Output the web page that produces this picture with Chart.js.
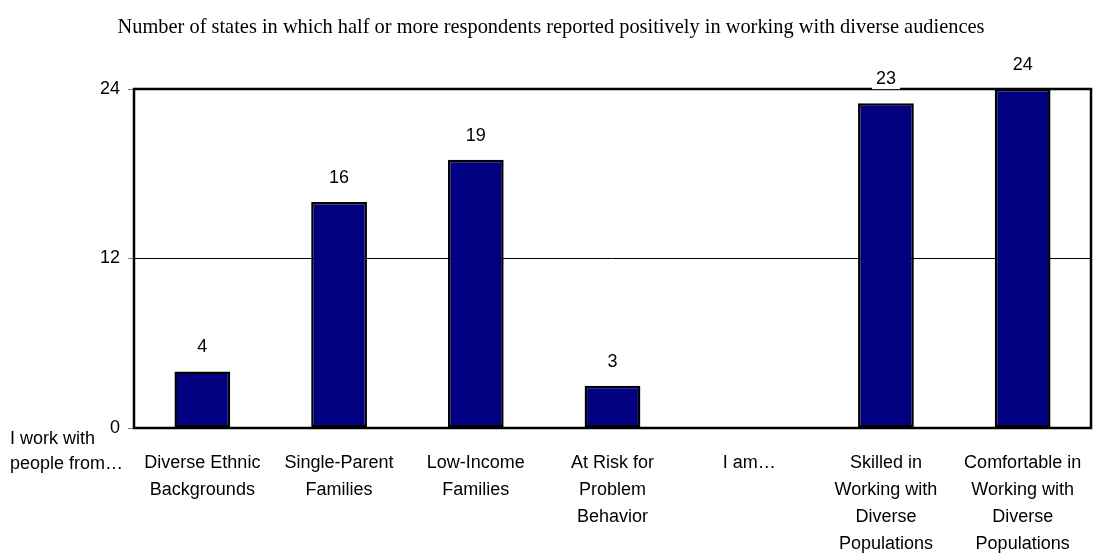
<!DOCTYPE html>
<html>
<head>
<meta charset="utf-8">
<script src="https://cdn.jsdelivr.net/npm/chart.js@4"></script>
<style>
  html, body { margin: 0; padding: 0; background: #fff; }
</style>
</head>
<body>
<canvas id="diversityChart" width="1094" height="557"></canvas>
<script>
const categories = [
  ["Diverse Ethnic", "Backgrounds"],
  ["Single-Parent", "Families"],
  ["Low-Income", "Families"],
  ["At Risk for", "Problem", "Behavior"],
  ["I am…"],
  ["Skilled in", "Working with", "Diverse", "Populations"],
  ["Comfortable in", "Working with", "Diverse", "Populations"]
];
const stateCounts = [4, 16, 19, 3, null, 23, 24];
const yTicks = [0, 12, 24];

const titleText = "Number of states in which half or more respondents reported positively in working with diverse audiences";
const leadLines = ["I work with", "people from…"];

const narrow = "'Liberation Sans Narrow', 'Arial Narrow', 'Liberation Sans', Arial, sans-serif";

// title, frame, value labels and the row lead-in text
const decorations = {
  id: 'decorations',
  beforeDatasetsDraw(chart) {
    const { ctx, chartArea: a } = chart;
    ctx.save();
    ctx.strokeStyle = '#000';
    ctx.lineWidth = 2.5;
    ctx.strokeRect(a.left, a.top, a.right - a.left, a.bottom - a.top);
    ctx.restore();
  },
  afterDatasetsDraw(chart) {
    const { ctx } = chart;
    ctx.save();
    ctx.font = "20.4px 'Liberation Serif', 'Times New Roman', serif";
    ctx.fillStyle = '#000';
    ctx.textAlign = 'center';
    ctx.textBaseline = 'middle';
    ctx.fillText(titleText, 551, 28);

    ctx.font = '18px ' + narrow;
    const meta = chart.getDatasetMeta(0);
    meta.data.forEach((bar, i) => {
      const v = stateCounts[i];
      if (v === null) return;
      const label = String(v);
      const y = bar.y - 24;
      const w = ctx.measureText(label).width + 8;
      ctx.fillStyle = '#fff';
      ctx.fillRect(bar.x - w / 2, y - 10, w, 20);
      ctx.fillStyle = '#000';
      ctx.fillText(label, bar.x, y);
    });

    ctx.textAlign = 'left';
    ctx.fillText(leadLines[0], 10, 439);
    ctx.fillText(leadLines[1], 10, 464);
    ctx.restore();
  }
};

new Chart(document.getElementById('diversityChart'), {
  type: 'bar',
  data: {
    labels: categories,
    datasets: [{
      data: stateCounts,
      backgroundColor: '#000080',
      borderColor: '#000',
      borderWidth: 2.5,
      borderSkipped: false,
      barPercentage: 0.51,
      categoryPercentage: 0.8
    }]
  },
  options: {
    responsive: false,
    animation: false,
    devicePixelRatio: 1,
    layout: { padding: { top: 89, right: 3, left: 0, bottom: 0 } },
    plugins: {
      legend: { display: false },
      tooltip: { enabled: false }
    },
    scales: {
      x: {
        grid: { display: false, drawTicks: false },
        border: { display: false },
        ticks: {
          color: '#000',
          padding: 22,
          maxRotation: 0,
          autoSkip: false,
          font: { family: narrow, size: 18, lineHeight: 1.5 }
        },
        afterFit(scale) {
          scale.height = 129;
          scale.paddingLeft = 0;
          scale.paddingRight = 0;
        }
      },
      y: {
        min: 0,
        max: 24,
        afterBuildTicks(scale) { scale.ticks = yTicks.map(v => ({ value: v })); },
        grid: {
          color: ctx => (ctx.tick && ctx.tick.value === 12 ? '#000' : 'rgba(0,0,0,0)'),
          lineWidth: 1,
          tickLength: 6,
          tickColor: '#808080'
        },
        border: { display: false },
        ticks: {
          color: '#000',
          padding: 8,
          font: { family: narrow, size: 18 }
        },
        afterFit(scale) {
          scale.width = 134;
          scale.paddingTop = 0;
          scale.paddingBottom = 0;
        }
      }
    }
  },
  plugins: [decorations]
});
</script>
</body>
</html>
